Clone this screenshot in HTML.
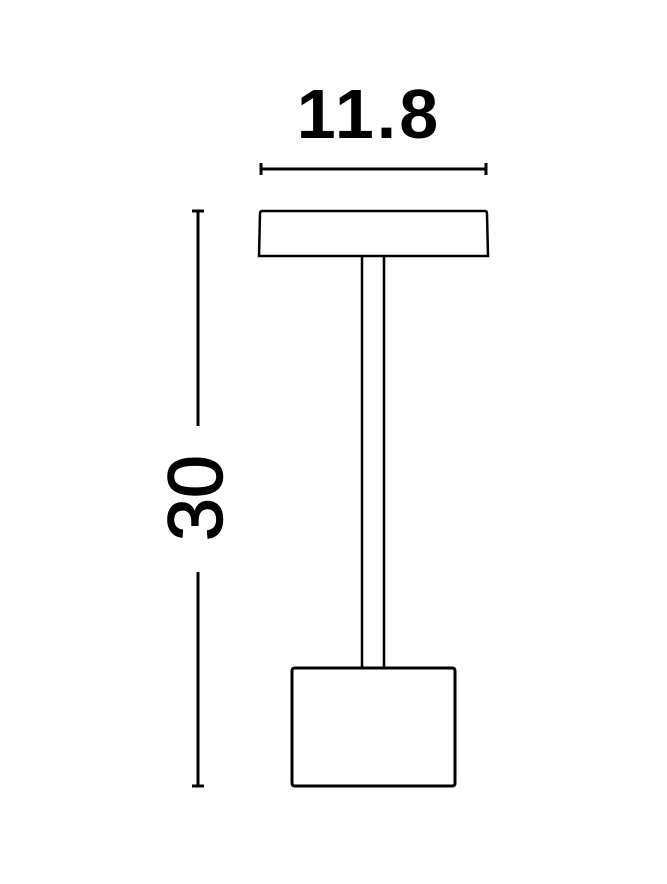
<!DOCTYPE html>
<html><head><style>html,body{margin:0;padding:0;background:#fff;}</style></head>
<body>
<svg width="667" height="879" viewBox="0 0 667 879" xmlns="http://www.w3.org/2000/svg">
<rect width="667" height="879" fill="#fff"/>
<text x="369" y="138" text-anchor="middle" font-family="Liberation Sans, sans-serif" font-weight="bold" font-size="70" letter-spacing="3" fill="#000">11.8</text>
<g stroke="#000" fill="none">
<line x1="261" y1="169" x2="486" y2="169" stroke-width="3"/>
<line x1="261" y1="163" x2="261" y2="175" stroke-width="3"/>
<line x1="486" y1="163" x2="486" y2="175" stroke-width="3"/>
<line x1="198" y1="211" x2="198" y2="426" stroke-width="3"/>
<line x1="198" y1="572" x2="198" y2="786" stroke-width="3"/>
<line x1="192" y1="211" x2="204" y2="211" stroke-width="3"/>
<line x1="192" y1="786" x2="204" y2="786" stroke-width="3"/>
<path d="M262 211 L485 211 Q487 211 487 214 L488 256 L259 256 L260 214 Q260 211 262 211 Z" stroke-width="2.5"/>
<line x1="362" y1="256" x2="362" y2="668" stroke-width="2.5"/>
<line x1="384" y1="256" x2="384" y2="668" stroke-width="2.5"/>
<path d="M295 668 L452 668 Q455 668 455 671 L455 783 Q455 786 452 786 L295 786 Q292 786 292 783 L292 671 Q292 668 295 668 Z" stroke-width="3"/>
</g>
<text transform="translate(222,498) rotate(-90)" text-anchor="middle" font-family="Liberation Sans, sans-serif" font-size="77" stroke="#000" stroke-width="1.5" fill="#000">30</text>
</svg>
</body></html>
